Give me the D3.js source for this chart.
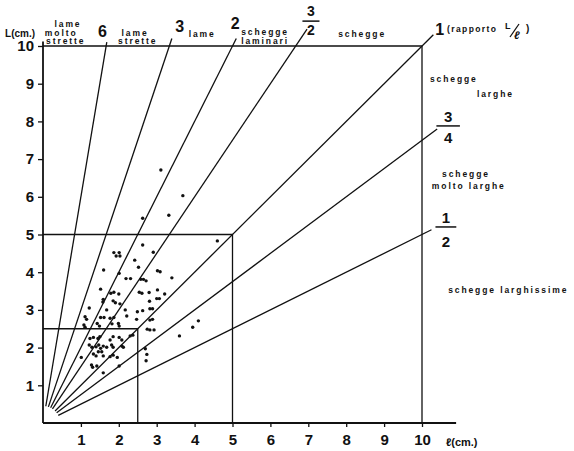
<!DOCTYPE html>
<html>
<head>
<meta charset="utf-8">
<script src="https://cdn.jsdelivr.net/npm/d3@7"></script>
<style>
  body { margin: 0; background: #fff; }
  text { font-family: "Liberation Sans", Arial, sans-serif; font-weight: 700; fill: #111; }
</style>
</head>
<body>
<div id="chart"></div>
<script>
// Data: length (L) vs width (ℓ) of flakes, in cm
const tickValues = [1, 2, 3, 4, 5, 6, 7, 8, 9, 10];

// ratio lines L/ℓ
const ratios = [6, 3, 2, 3 / 2, 1, 3 / 4, 1 / 2];

// measured pieces [width ℓ, length L]
const pieces = [
    [4.6, 4.83], [2.63, 4.72], [1.87, 4.52], [2.01, 4.52], [1.93, 4.43], [2.03, 4.43],
    [2.91, 4.53], [2.42, 4.32], [2.52, 4.13], [1.6, 4.06], [3.02, 4.04], [3.09, 4.01],
    [2.01, 3.97], [2.19, 3.83], [2.31, 3.83], [2.58, 3.81], [2.65, 3.81], [3.4, 3.85],
    [2.72, 3.77], [1.52, 3.55], [1.79, 3.44], [1.87, 3.47], [2.0, 3.42], [2.54, 3.47],
    [2.61, 3.44], [2.8, 3.46], [3.02, 3.53], [3.21, 3.42], [1.59, 3.28], [1.58, 3.21],
    [1.85, 3.24], [1.91, 3.19], [2.03, 3.16], [2.81, 3.23], [3.0, 3.3], [3.07, 3.3],
    [1.22, 3.05], [1.68, 3.0], [2.17, 3.0], [2.49, 2.95], [2.63, 2.98], [2.82, 3.03],
    [2.89, 3.03], [1.52, 2.8], [1.61, 2.8], [1.11, 2.82], [1.15, 2.75], [1.77, 2.78],
    [1.87, 2.8], [2.21, 2.84], [2.47, 2.75], [2.82, 2.73], [2.89, 2.75], [1.08, 2.6],
    [1.11, 2.54], [1.43, 2.64], [1.49, 2.57], [1.82, 2.63], [1.99, 2.64], [2.01, 2.57],
    [2.75, 2.49], [2.82, 2.47], [2.93, 2.47],
    [1.24, 2.24], [1.33, 2.27], [1.45, 2.24], [1.5, 2.29], [1.77, 2.2], [1.85, 2.29],
    [2.01, 2.27], [2.08, 2.2], [2.3, 2.31], [2.37, 2.33], [1.22, 2.07], [1.29, 2.01],
    [1.4, 2.02], [1.47, 2.07], [1.52, 1.98], [1.59, 2.04], [1.68, 2.01], [1.81, 2.07],
    [1.85, 2.01], [2.08, 2.04], [2.12, 2.01], [2.7, 1.97], [1.01, 1.74], [1.33, 1.83],
    [1.4, 1.78], [1.46, 1.89], [1.55, 1.89], [1.59, 1.78], [1.77, 1.76], [1.85, 1.8],
    [1.96, 1.74], [2.74, 1.82], [2.72, 1.65], [1.28, 1.54], [1.31, 1.48], [1.42, 1.51],
    [2.01, 1.51], [1.59, 1.33], [3.6, 2.31], [3.95, 2.54], [4.1, 2.71],
    [3.11, 6.71], [3.69, 6.03], [3.32, 5.51], [2.63, 5.43]
];

// Layout
const width = 574;
const height = 451;

const svg = d3.select('#chart')
    .append("svg")
    .attr("width", width)
    .attr("height", height);

const xScale = d3.scaleLinear().domain([0, 10]).range([43, 422]);
const yScale = d3.scaleLinear().domain([0, 10]).range([423, 46]);

const line = d3.line()
    .x(d => xScale(d[0]))
    .y(d => yScale(d[1]));

// Axes (domain drawn by hand so it can run past 10)
const gX = svg.append("g")
    .attr("transform", `translate(0, ${yScale(0)})`)
    .call(d3.axisBottom(xScale).tickValues(tickValues).tickSize(4).tickPadding(7));
const gY = svg.append("g")
    .attr("transform", `translate(${xScale(0)}, 0)`)
    .call(d3.axisLeft(yScale).tickValues(tickValues).tickSize(5).tickPadding(4));

[gX, gY].forEach(g => {
    g.select(".domain").remove();
    g.selectAll(".tick line").attr("stroke", "#111").attr("stroke-width", 1.3);
    g.selectAll(".tick text")
        .attr("font-size", "15px")
        .attr("font-family", "Liberation Sans, Arial, sans-serif")
        .attr("font-weight", 700)
        .attr("fill", "#111");
});

const gLines = svg.append("g")
    .attr("fill", "none")
    .attr("stroke", "#111");

// axis lines
gLines.append("path").attr("stroke-width", 1.8).attr("d", line([[0, 0], [10.9, 0]]));
gLines.append("path").attr("stroke-width", 1.8).attr("d", line([[0, 0], [0, 10.12]]));

// frames: 10x10, 5x5, 2.5x2.5
[10, 5, 2.5].forEach(s => {
    gLines.append("path")
        .attr("stroke-width", 1.3)
        .attr("d", line([[0, s], [s, s], [s, 0]]));
});

// ratio rays: start a little off the origin, run just past the frame
const rayStart = 0.45;
const rayReach = [10.1, 10.2, 10.2, 10.45, 10.3, 10.4, 10.25];
ratios.forEach((r, i) => {
    const a = Math.atan(r);
    const p0 = [rayStart * Math.cos(a), rayStart * Math.sin(a)];
    const p1 = r >= 1 && i < 4 ? [rayReach[i] / r, rayReach[i]] : [rayReach[i], rayReach[i] * r];
    gLines.append("path")
        .attr("stroke-width", 1.3)
        .attr("d", line([p0, p1]));
});

// scatter
svg.append("g")
    .selectAll("circle")
    .data(pieces)
    .join("circle")
    .attr("cx", d => xScale(d[0]))
    .attr("cy", d => yScale(d[1]))
    .attr("r", 1.7)
    .attr("fill", "#111");

// Labels
const smallLabels = [
    { t: "lame", x: 0.66, y: 10.5, anchor: "middle" },
    { t: "molto", x: 0.48, y: 10.27, anchor: "middle" },
    { t: "strette", x: 0.6, y: 10.04, anchor: "middle" },
    { t: "lame", x: 2.43, y: 10.27, anchor: "middle" },
    { t: "strette", x: 2.5, y: 10.04, anchor: "middle" },
    { t: "lame", x: 4.2, y: 10.24, anchor: "middle" },
    { t: "schegge", x: 5.86, y: 10.28, anchor: "middle" },
    { t: "laminari", x: 5.86, y: 10.04, anchor: "middle" },
    { t: "schegge", x: 8.42, y: 10.24, anchor: "middle" },
    { t: "schegge", x: 10.21, y: 9.05, anchor: "start" },
    { t: "larghe", x: 11.45, y: 8.65, anchor: "start" },
    { t: "schegge", x: 10.53, y: 6.53, anchor: "start" },
    { t: "molto larghe", x: 10.26, y: 6.21, anchor: "start" },
    { t: "schegge larghissime", x: 10.69, y: 3.45, anchor: "start" }
];
svg.append("g")
    .selectAll("text")
    .data(smallLabels)
    .join("text")
    .attr("x", d => xScale(d.x))
    .attr("y", d => yScale(d.y))
    .attr("text-anchor", d => d.anchor)
    .attr("font-size", "8.5px")
    .attr("letter-spacing", "1.9px")
    .text(d => d.t);

// whole-number ratio labels
const ratioLabels = [
    { t: "6", x: 1.57, y: 10.24 },
    { t: "3", x: 3.61, y: 10.37 },
    { t: "2", x: 5.07, y: 10.45 },
    { t: "1", x: 10.47, y: 10.29 }
];
svg.append("g")
    .selectAll("text")
    .data(ratioLabels)
    .join("text")
    .attr("x", d => xScale(d.x))
    .attr("y", d => yScale(d.y))
    .attr("text-anchor", "middle")
    .attr("font-size", "16px")
    .text(d => d.t);

// fraction labels
const fractionLabels = [
    { num: "3", den: "2", x: 7.07, yNum: 10.79, yBar: 10.66, yDen: 10.3, w: 0.45, size: 14 },
    { num: "3", den: "4", x: 10.69, yNum: 7.98, yBar: 7.88, yDen: 7.43, w: 0.62, size: 15 },
    { num: "1", den: "2", x: 10.63, yNum: 5.3, yBar: 5.2, yDen: 4.67, w: 0.55, size: 15 }
];
const gFrac = svg.append("g");
fractionLabels.forEach(f => {
    gFrac.append("text")
        .attr("x", xScale(f.x)).attr("y", yScale(f.yNum))
        .attr("text-anchor", "middle").attr("font-size", f.size + "px").text(f.num);
    gFrac.append("text")
        .attr("x", xScale(f.x)).attr("y", yScale(f.yDen))
        .attr("text-anchor", "middle").attr("font-size", f.size + "px").text(f.den);
    gFrac.append("path")
        .attr("stroke", "#111").attr("stroke-width", 1.5)
        .attr("d", line([[f.x - f.w / 2, f.yBar], [f.x + f.w / 2, f.yBar]]));
});

// "(rapporto L/ℓ)"
svg.append("text")
    .attr("x", xScale(10.66)).attr("y", yScale(10.37))
    .attr("font-size", "8.5px").attr("letter-spacing", "1.4px")
    .text("(rapporto");
svg.append("text")
    .attr("x", 505).attr("y", 29)
    .attr("font-size", "9px").text("L");
svg.append("path")
    .attr("stroke", "#111").attr("stroke-width", 1.3)
    .attr("d", "M510,37 L519,24");
svg.append("text")
    .attr("x", 514).attr("y", 39)
    .attr("font-size", "11px").attr("font-style", "italic").text("ℓ");
svg.append("text")
    .attr("x", 526).attr("y", 32)
    .attr("font-size", "10px").text(")");

// axis titles
svg.append("text")
    .attr("x", xScale(-1.0)).attr("y", yScale(10.25))
    .attr("font-size", "10px")
    .text("L(cm.)");
svg.append("text")
    .attr("x", xScale(10.63)).attr("y", yScale(-0.6))
    .attr("font-size", "11px")
    .text("ℓ(cm.)");
</script>
</body>
</html>
